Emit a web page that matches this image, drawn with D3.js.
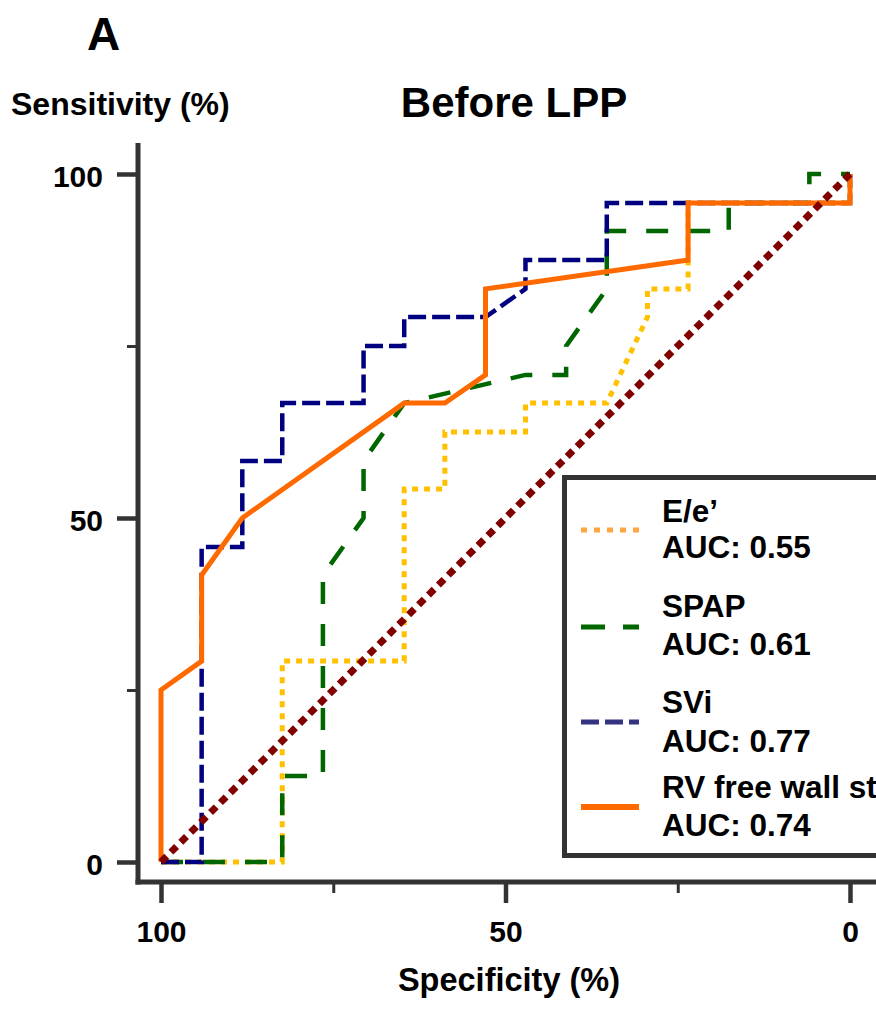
<!DOCTYPE html>
<html>
<head>
<meta charset="utf-8">
<script src="https://cdn.jsdelivr.net/npm/d3@7"></script>
<style>
  html, body { margin: 0; padding: 0; background: #fff; }
  svg { display: block; }
  text { font-family: "Liberation Sans", Arial, sans-serif; font-weight: bold; fill: #000; }
</style>
</head>
<body>
<script>
// ROC curves before LPP: specificity (%) on x (reversed), sensitivity (%) on y
const specEe   = [100, 82.4, 82.4, 64.7, 64.7, 58.8, 58.8, 47.1, 47.1, 35.3, 29.4, 29.4, 23.5, 23.5, 23.5, 0, 0];
const sensEe   = [0, 0, 29.2, 29.2, 54.2, 54.2, 62.5, 62.5, 66.7, 66.7, 79.2, 83.3, 83.3, 87.5, 95.8, 95.8, 100];

const specSPAP = [100, 82.4, 82.4, 76.5, 76.5, 70.6, 70.6, 64.7, 47.1, 41.2, 41.2, 35.3, 35.3, 17.6, 17.6, 5.9, 5.9, 0];
const sensSPAP = [0, 0, 12.5, 12.5, 41.7, 50, 58.3, 66.7, 70.8, 70.8, 75, 83.3, 91.7, 91.7, 95.8, 95.8, 100, 100];

const specSVi  = [100, 94.1, 94.1, 88.2, 88.2, 82.4, 82.4, 70.6, 70.6, 64.7, 64.7, 52.9, 47.1, 47.1, 35.3, 35.3, 0, 0];
const sensSVi  = [0, 0, 45.8, 45.8, 58.3, 58.3, 66.7, 66.7, 75, 75, 79.2, 79.2, 83.3, 87.5, 87.5, 95.8, 95.8, 100];

const specRV   = [100, 100, 94.1, 94.1, 88.2, 64.7, 58.8, 52.9, 52.9, 23.5, 23.5, 0, 0];
const sensRV   = [0, 25, 29.2, 41.7, 50, 66.7, 66.7, 70.8, 83.3, 87.5, 95.8, 95.8, 100];

const specRef  = [100, 0];
const sensRef  = [0, 100];

const seriesNames = ["E/e\u2019", "SPAP", "SVi", "RV free wall strain"];
const aucLabels   = ["AUC: 0.55", "AUC: 0.61", "AUC: 0.77", "AUC: 0.74"];

const majorTicks = [0, 50, 100];
const minorTicks = [25, 75];

const W = 876, H = 1009;
const svg = d3.select("body").append("svg").attr("width", W).attr("height", H);

const x = d3.scaleLinear().domain([100, 0]).range([161, 850]);
const y = d3.scaleLinear().domain([0, 100]).range([862, 174]);

const axisX = 882, axisY = 138;
const axisColor = "#333";

// Headings
svg.append("text").attr("x", 87).attr("y", 50).style("font-size", "46px").text("A");
svg.append("text").attr("x", 11).attr("y", 115).style("font-size", "32px").text("Sensitivity (%)");
svg.append("text").attr("x", 514).attr("y", 117).attr("text-anchor", "middle").style("font-size", "42px").text("Before LPP");
svg.append("text").attr("x", 509).attr("y", 991).attr("text-anchor", "middle").style("font-size", "32.5px").text("Specificity (%)");

// Axes
function styleAxis(g, w) {
  g.select(".domain").remove();
  g.selectAll(".tick line").attr("stroke", axisColor).attr("stroke-width", w);
  g.selectAll(".tick text").style("font-size", "30px").attr("fill", "#000");
}

svg.append("g").attr("transform", `translate(0,${axisX})`)
  .call(d3.axisBottom(x).tickValues(majorTicks).tickSize(21).tickPadding(18).tickFormat(d3.format("d")))
  .call(g => styleAxis(g, 4.5));
svg.append("g").attr("transform", `translate(0,${axisX})`)
  .call(d3.axisBottom(x).tickValues(minorTicks).tickSize(11).tickFormat(""))
  .call(g => styleAxis(g, 3));

svg.append("g").attr("transform", `translate(${axisY},0)`)
  .call(d3.axisLeft(y).tickValues(majorTicks).tickSize(21).tickPadding(14).tickFormat(d3.format("d")))
  .call(g => styleAxis(g, 4.5))
  .call(g => g.selectAll(".tick text").attr("dy", "0.42em"));
svg.append("g").attr("transform", `translate(${axisY},0)`)
  .call(d3.axisLeft(y).tickValues(minorTicks).tickSize(11).tickFormat(""))
  .call(g => styleAxis(g, 3));

// axis lines
svg.append("line").attr("x1", axisY).attr("x2", axisY).attr("y1", 143).attr("y2", axisX + 2.5)
  .attr("stroke", axisColor).attr("stroke-width", 5);
svg.append("line").attr("x1", axisY - 2.5).attr("x2", W + 5).attr("y1", axisX).attr("y2", axisX)
  .attr("stroke", axisColor).attr("stroke-width", 5);

// Curves
const line = d3.line().x(d => x(d[0])).y(d => y(d[1]));
const zip = (a, b) => a.map((v, i) => [v, b[i]]);

const curves = [
  { pts: zip(specEe, sensEe),     color: "#FFC000", width: 5,   dash: "6,6" },
  { pts: zip(specSPAP, sensSPAP), color: "#006600", width: 4.5, dash: "22,20" },
  { pts: zip(specSVi, sensSVi),   color: "#000080", width: 4.5, dash: "18,6" },
  { pts: zip(specRV, sensRV),     color: "#FF6A00", width: 5,   dash: null },
  { pts: zip(specRef, sensRef),   color: "#800000", width: 7,   dash: "8,6" }
];

curves.forEach(c => {
  svg.append("path").datum(c.pts)
    .attr("d", line)
    .attr("fill", "none")
    .attr("stroke", c.color)
    .attr("stroke-width", c.width)
    .attr("stroke-linejoin", "miter")
    .attr("stroke-dasharray", c.dash);
});

// Legend (the box runs past the right edge of the figure)
const legend = svg.append("g");
legend.append("rect").attr("x", 564.5).attr("y", 477.5).attr("width", 420).attr("height", 378)
  .attr("fill", "#fff").attr("stroke", axisColor).attr("stroke-width", 5);

const legendStyle = [
  { color: "#FFA640", width: 5, dash: "6,7" },
  { color: "#006600", width: 5, dash: "24,18" },
  { color: "#333380", width: 5, dash: "18,6" },
  { color: "#FF6A00", width: 6, dash: null }
];
const legendLineY = [530, 627, 722, 807];
const legendNameY = [522, 617, 713, 798];
const legendAucY  = [558, 655, 752, 836];

seriesNames.forEach((name, i) => {
  legend.append("line").attr("x1", 581).attr("x2", 639)
    .attr("y1", legendLineY[i]).attr("y2", legendLineY[i])
    .attr("stroke", legendStyle[i].color).attr("stroke-width", legendStyle[i].width)
    .attr("stroke-dasharray", legendStyle[i].dash);
  legend.append("text").attr("x", 662).attr("y", legendNameY[i]).style("font-size", "31.5px").text(name);
  legend.append("text").attr("x", 662).attr("y", legendAucY[i]).style("font-size", "31.5px").text(aucLabels[i]);
});
</script>
</body>
</html>
